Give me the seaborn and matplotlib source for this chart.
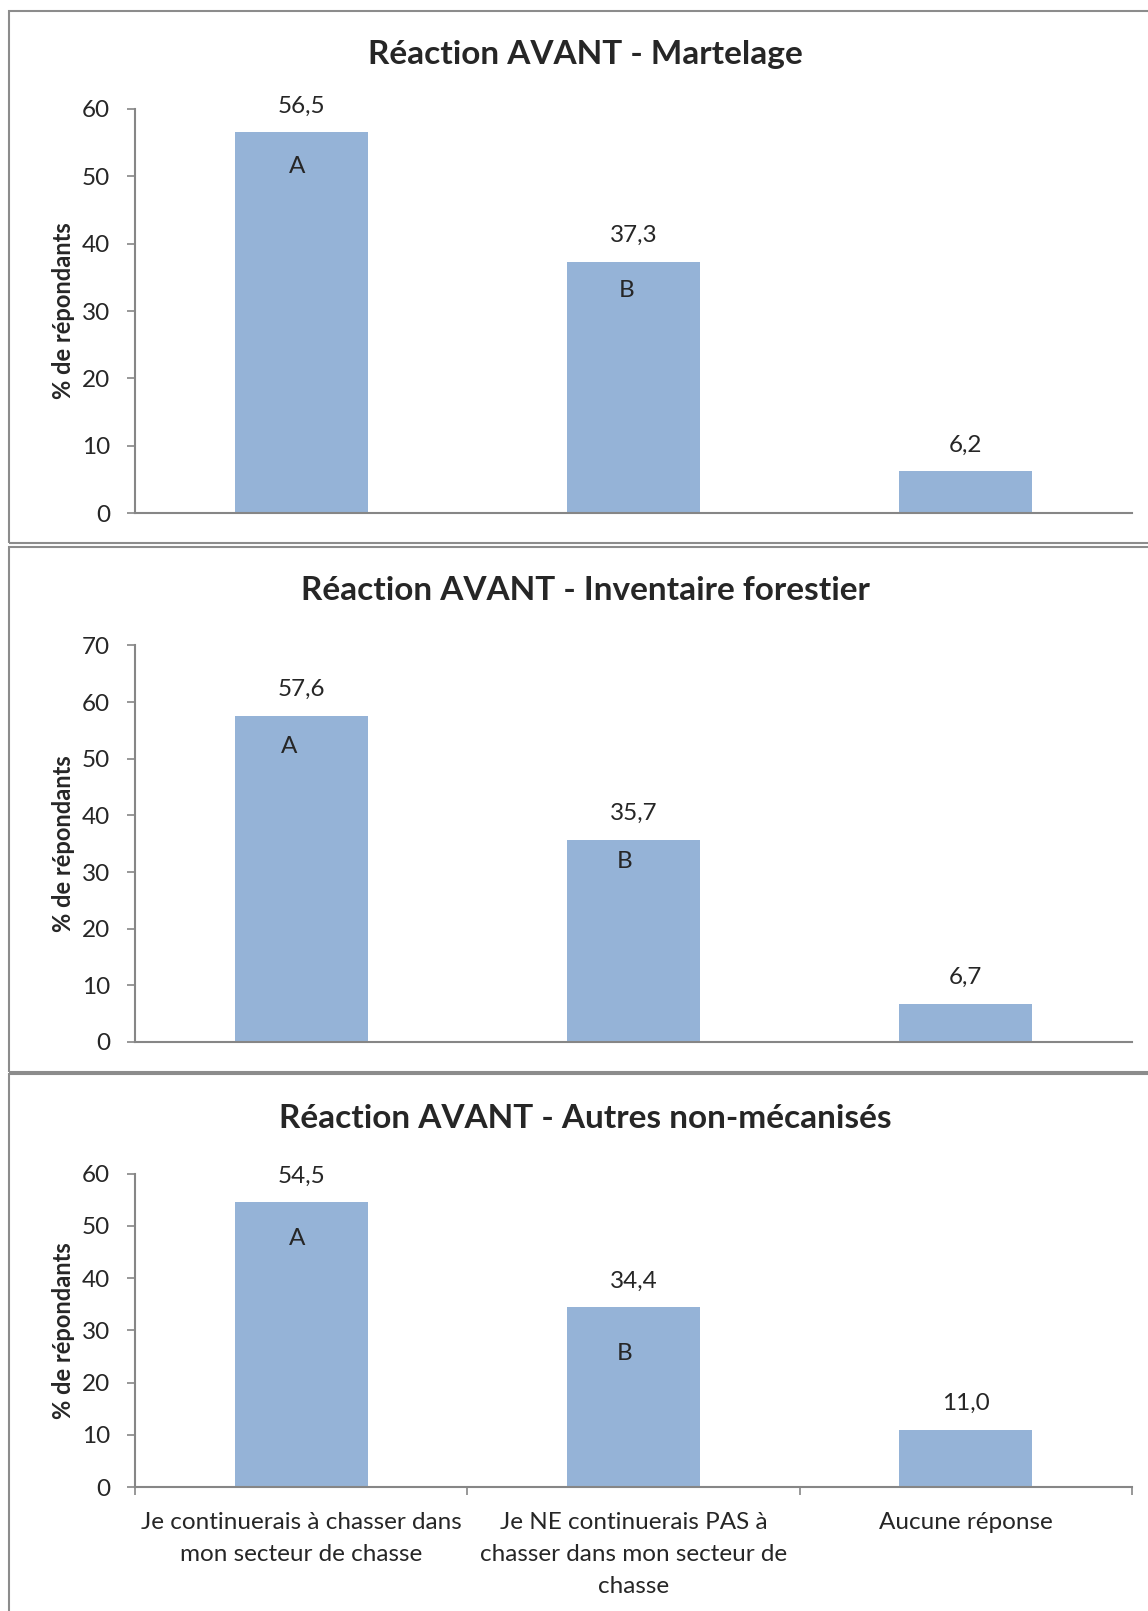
import matplotlib
matplotlib.use("Agg")
import matplotlib.pyplot as plt
import seaborn as sns
import pandas as pd
from matplotlib.patches import Rectangle

sns.set_style("white")
plt.rcParams["font.family"] = ["Lato", "DejaVu Sans"]

# data
categories = ["Je continuerais à chasser dans mon secteur de chasse",
              "Je NE continuerais PAS à chasser dans mon secteur de chasse",
              "Aucune réponse"]
tick_labels = ["Je continuerais à chasser dans\nmon secteur de chasse",
               "Je NE continuerais PAS à\nchasser dans mon secteur de\nchasse",
               "Aucune réponse"]
titles = ["Réaction AVANT - Martelage",
          "Réaction AVANT - Inventaire forestier",
          "Réaction AVANT - Autres non-mécanisés"]
martelage = [56.5, 37.3, 6.2]
inventaire = [57.6, 35.7, 6.7]
autres = [54.5, 34.4, 11.0]
ymax = [60, 70, 60]
letters = ["A", "B", ""]

W, H = 1148, 1611
bar_col = "#95B3D7"
grey = "#868686"
fs = 17.5

fig = plt.figure(figsize=(W / 100, H / 100), dpi=100)

# panel frames (pixel coords: top, bottom)
frames = [(10.7, 543), (547, 1072), (1074, 1640)]
for top, bot in frames:
    fig.patches.append(Rectangle((9 / W, 1 - bot / H), 1.2, (bot - top) / H,
                                 transform=fig.transFigure, fill=False,
                                 edgecolor="#8c8c8c", lw=1.5))

# axes rectangles in pixels: (y of top tick, y of zero)
axes_px = [(108.7, 513.3), (645.4, 1042), (1173.6, 1487)]
title_y = [54.5, 591, 1118]
# letter offsets (px): (dx, dy below bar top)
letter_off = [[(-4, 34), (-7, 29)], [(-12, 31), (-9, 22)], [(-4, 36), (-9, 46)]]

for i, vals in enumerate([martelage, inventaire, autres]):
    top, zero = axes_px[i]
    ax = fig.add_axes([135 / W, 1 - zero / H, (1132 - 135) / W, (zero - top) / H])
    df = pd.DataFrame({"cat": categories, "v": vals})
    sns.barplot(data=df, x="cat", y="v", color=bar_col, saturation=1,
                width=0.4, ax=ax, linewidth=0)
    ax.set_xlim(-0.5, 2.5)
    ax.set_ylim(0, ymax[i])
    ax.set_yticks(range(0, ymax[i] + 1, 10))
    ax.set_ylabel("% de répondants", fontsize=17, fontweight="bold")
    ax.set_xlabel("")
    for s in ["top", "right"]:
        ax.spines[s].set_visible(False)
    for s in ["left", "bottom"]:
        ax.spines[s].set_color(grey)
        ax.spines[s].set_linewidth(1.5)
    ax.tick_params(axis="y", direction="out", length=6, width=1.2, color=grey,
                   labelsize=fs, pad=12, left=True)
    if i == 2:
        ax.set_xticks(range(3))
        ax.set_xticklabels(tick_labels, fontsize=fs, linespacing=1.65)
        ax.tick_params(axis="x", which="major", length=0, pad=18)
        ax.set_xticks([-0.5, 0.5, 1.5, 2.5], minor=True)
        ax.tick_params(axis="x", which="minor", direction="out", length=6,
                       width=1.2, color=grey, bottom=True)
    else:
        ax.set_xticks([])
    for j, v in enumerate(vals):
        ax.annotate(f"{v:.1f}".replace(".", ","), xy=(j, v), xytext=(0, 19),
                    textcoords="offset points", ha="center", va="center",
                    fontsize=fs)
        if letters[j]:
            dx, dy = letter_off[i][j]
            ax.annotate(letters[j], xy=(j, v), xytext=(dx * 0.72, -dy * 0.72),
                        textcoords="offset points", ha="center", va="center",
                        fontsize=fs)
    fig.text(585 / W, 1 - title_y[i] / H, titles[i], ha="center", va="center",
             fontsize=24, fontweight="bold")
    ax.yaxis.set_label_coords(-(135 - 75) / (1132 - 135), 0.5)

fig.savefig("out.png", dpi=100)
